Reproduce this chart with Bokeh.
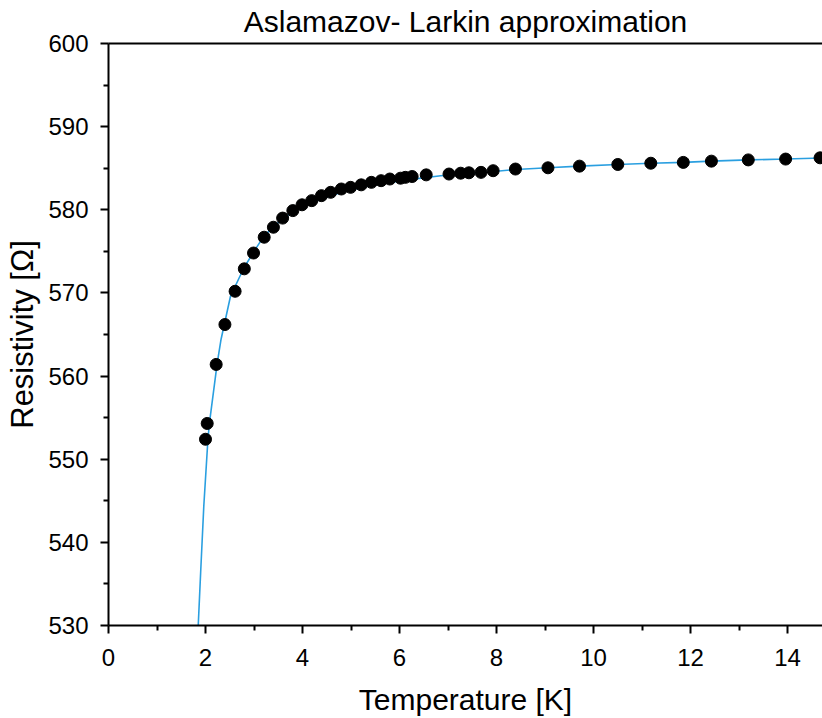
from bokeh.plotting import figure
from bokeh.models import Range1d, FixedTicker, LinearAxis
from bokeh.embed import file_html
from bokeh.resources import INLINE

# Measured data
T_data = [2.00, 2.035, 2.22, 2.40, 2.61, 2.80, 2.99, 3.21, 3.40, 3.59, 3.80, 3.99, 4.19, 4.39,
          4.58, 4.80, 4.99, 5.21, 5.42, 5.62, 5.80, 6.02, 6.12, 6.26, 6.55, 7.02, 7.26, 7.43,
          7.68, 7.93, 8.39, 9.06, 9.71, 10.50, 11.18, 11.85, 12.43, 13.19, 13.96, 14.67]
R_data = [552.4, 554.3, 561.4, 566.2, 570.2, 572.9, 574.8, 576.7, 577.9, 579.0, 579.9, 580.6,
          581.1, 581.7, 582.1, 582.5, 582.7, 583.0, 583.3, 583.5, 583.7, 583.8, 583.9, 584.0,
          584.2, 584.3, 584.4, 584.45, 584.5, 584.7, 584.9, 585.05, 585.25, 585.45, 585.6,
          585.7, 585.85, 586.0, 586.1, 586.25]

# Aslamazov-Larkin fit curve
curve_T = [1.85, 1.90, 1.965, 2.05, 2.08, 2.24, 2.32, 2.515, 2.79, 3.00, 3.20, 3.41, 3.61, 3.82,
           4.03, 4.30, 4.58, 4.92, 5.47, 6.16, 6.85, 7.67, 8.4, 9.06, 9.71, 10.5, 11.18, 11.85,
           12.43, 13.19, 13.96, 14.8]
curve_R = [530.0, 536.4, 544.4, 552.4, 554.3, 561.5, 564.4, 569.6, 573.0, 575.0, 576.8, 578.0,
           579.0, 579.8, 580.4, 581.1, 581.7, 582.3, 583.0, 583.6, 584.1, 584.45, 584.85, 585.05,
           585.25, 585.45, 585.6, 585.7, 585.85, 586.0, 586.1, 586.25]

x_ticks = [0, 2, 4, 6, 8, 10, 12, 14]
x_minor = [1, 3, 5, 7, 9, 11, 13, 15]
y_ticks = [530, 540, 550, 560, 570, 580, 590, 600]
y_minor = [535, 545, 555, 565, 575, 585, 595]

TITLE = "Aslamazov- Larkin approximation"
FONT = "Liberation Sans"

p = figure(width=822, height=718, output_backend="svg", toolbar_location=None,
           x_range=Range1d(0, 14.72), y_range=Range1d(530, 600),
           min_border_left=108, min_border_right=0, min_border_top=43, min_border_bottom=91)
p.outline_line_color = None
p.grid.visible = False
p.background_fill_color = "white"
p.border_fill_color = "white"

for ax, ticks, minor in ((p.xaxis[0], x_ticks, x_minor), (p.yaxis[0], y_ticks, y_minor)):
    ax.ticker = FixedTicker(ticks=ticks, minor_ticks=minor)
    ax.axis_line_width = 2
    ax.axis_line_color = "black"
    ax.major_tick_line_width = 2
    ax.minor_tick_line_width = 2
    ax.major_tick_line_color = "black"
    ax.minor_tick_line_color = "black"
    ax.major_tick_out = 8
    ax.major_tick_in = 0
    ax.minor_tick_out = 5
    ax.minor_tick_in = 0
    ax.major_label_text_font = FONT
    ax.major_label_text_font_size = "24px"
    ax.major_label_text_color = "black"
    ax.axis_label_text_font = FONT
    ax.axis_label_text_font_size = "30px"
    ax.axis_label_text_font_style = "normal"
    ax.axis_label_text_color = "black"

p.xaxis[0].axis_label = "Temperature [K]"
p.xaxis[0].major_label_standoff = 15
p.xaxis[0].axis_label_standoff = 14
p.yaxis[0].axis_label = "Resistivity [Ω]"
p.yaxis[0].axis_label_text_font_size = "31px"
p.yaxis[0].major_label_standoff = 12
p.yaxis[0].axis_label_standoff = 5

# top frame line, carrying the chart title as its label
top = LinearAxis(ticker=FixedTicker(ticks=[]), axis_line_width=2, axis_line_color="black",
                 major_tick_line_color=None, minor_tick_line_color=None,
                 major_label_text_font_size="0px", major_label_standoff=0,
                 axis_label=TITLE, axis_label_text_font=FONT, axis_label_text_font_size="30px",
                 axis_label_text_font_style="normal", axis_label_text_color="black",
                 axis_label_standoff=6)
p.add_layout(top, "above")

p.line(curve_T, curve_R, line_color="#2A9FE0", line_width=1.6)
p.scatter(T_data, R_data, size=12, fill_color="black", line_color="black")

open("out.html", "w").write(file_html(p, INLINE))
